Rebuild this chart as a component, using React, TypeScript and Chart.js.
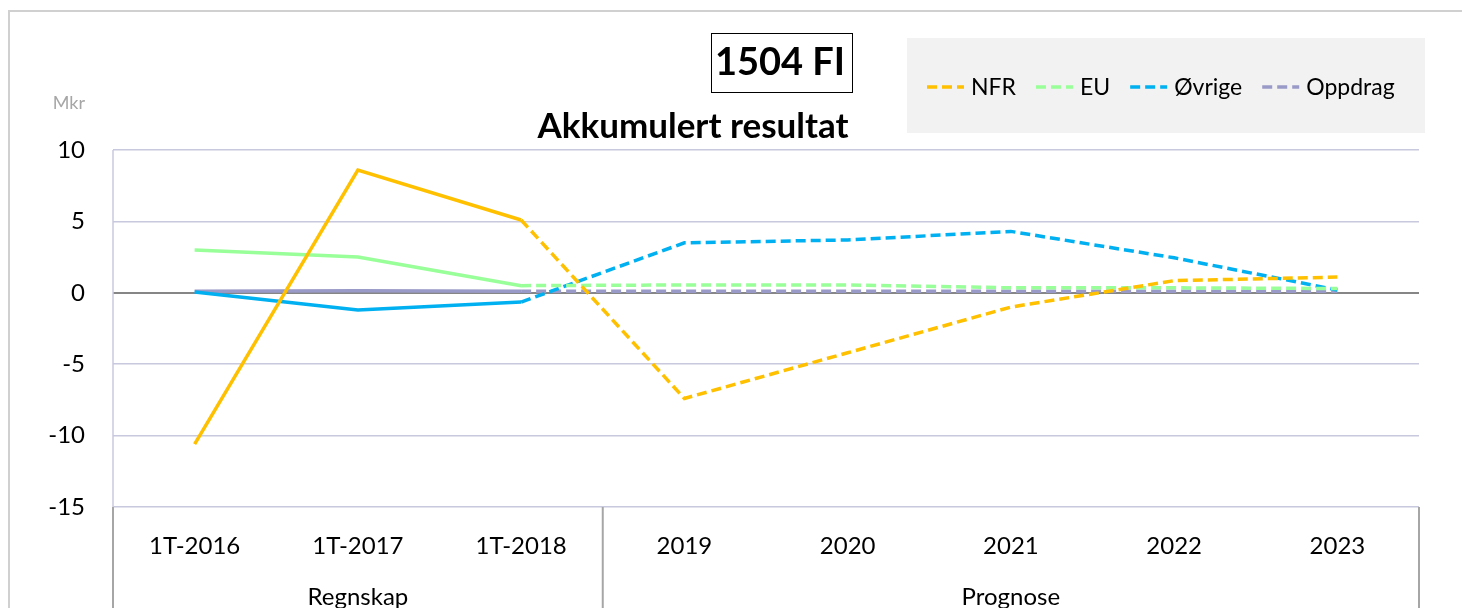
import React, { useEffect, useRef } from "react";
import { Chart, registerables } from "chart.js";

Chart.register(...registerables);

const categories = ["1T-2016", "1T-2017", "1T-2018", "2019", "2020", "2021", "2022", "2023"];
const groupLabels = ["Regnskap", "Prognose"];
const groupSizes = [3, 5];
const actualCount = 3;

const seriesNames = ["NFR", "EU", "Øvrige", "Oppdrag"];
const nfr = [-10.6, 8.6, 5.1, -7.4, -4.2, -1.0, 0.85, 1.1];
const eu = [3.0, 2.5, 0.5, 0.55, 0.55, 0.35, 0.35, 0.3];
const ovrige = [0.05, -1.2, -0.65, 3.5, 3.7, 4.3, 2.45, 0.2];
const oppdrag = [0.1, 0.15, 0.1, 0.1, 0.1, 0.1, 0.1, 0.1];
const seriesColors = ["#FFC000", "#99FF99", "#00B0F0", "#9A9AC8"];

const yTicks = [10, 5, 0, -5, -10, -15];
const titleBox = "1504 FI";
const titleText = "Akkumulert resultat";
const unitLabel = "Mkr";

const FONT = 'Lato, "Open Sans", sans-serif';
const W = 1454;
const H = 600;

export default function App() {
  const ref = useRef<HTMLCanvasElement | null>(null);

  useEffect(() => {
    if (!ref.current) return;
    const all = [nfr, eu, ovrige, oppdrag];
    const datasets: any[] = [];
    all.forEach((vals, k) => {
      datasets.push({
        label: seriesNames[k] + "_actual",
        data: vals.map((v, i) => (i < actualCount ? v : null)),
        borderColor: seriesColors[k],
        backgroundColor: seriesColors[k],
        borderWidth: 3.5,
        pointRadius: 0,
        spanGaps: false,
        tension: 0,
      });
    });
    all.forEach((vals, k) => {
      datasets.push({
        label: seriesNames[k],
        data: vals.map((v, i) => (i >= actualCount - 1 ? v : null)),
        borderColor: seriesColors[k],
        backgroundColor: seriesColors[k],
        borderWidth: 3.5,
        borderDash: [10, 5],
        pointRadius: 0,
        spanGaps: false,
        tension: 0,
      });
    });

    const decor = {
      id: "decor",
      beforeDraw(chart: any) {
        const ctx = chart.ctx;
        ctx.save();
        // outer border (top and left edges)
        ctx.strokeStyle = "#d0d0d0";
        ctx.lineWidth = 2;
        ctx.beginPath();
        ctx.moveTo(1, H);
        ctx.lineTo(1, 3);
        ctx.lineTo(W, 3);
        ctx.stroke();
        // title box
        ctx.fillStyle = "#000";
        ctx.font = `bold 38px ${FONT}`;
        ctx.textAlign = "center";
        ctx.textBaseline = "middle";
        ctx.fillText(titleBox, 772, 55);
        ctx.strokeStyle = "#000";
        ctx.lineWidth = 1;
        ctx.strokeRect(703.5, 25.5, 141, 59);
        ctx.font = `bold 35px ${FONT}`;
        ctx.fillText(titleText, 685, 119);
        // legend
        ctx.fillStyle = "#f2f2f2";
        ctx.fillRect(899, 30, 518, 95);
        ctx.font = `23px ${FONT}`;
        ctx.textAlign = "left";
        let x = 919;
        const ly = 79;
        seriesNames.forEach((n, k) => {
          ctx.strokeStyle = seriesColors[k];
          ctx.lineWidth = 3.5;
          ctx.setLineDash([10, 5]);
          ctx.beginPath();
          ctx.moveTo(x, ly);
          ctx.lineTo(x + 37, ly);
          ctx.stroke();
          ctx.setLineDash([]);
          ctx.fillStyle = "#000";
          ctx.fillText(n, x + 44, ly + 1);
          x += 44 + ctx.measureText(n).width + 20;
        });
        // unit
        ctx.fillStyle = "#a6a6a6";
        ctx.font = `18px ${FONT}`;
        ctx.textAlign = "right";
        ctx.fillText(unitLabel, 77, 95);
        ctx.restore();
      },
      beforeDatasetsDraw(chart: any) {
        const ctx = chart.ctx;
        const a = chart.chartArea;
        ctx.save();
        ctx.strokeStyle = "#c8c8de";
        ctx.lineWidth = 1.5;
        ctx.beginPath();
        ctx.moveTo(a.left, a.top);
        ctx.lineTo(a.left, a.bottom);
        ctx.stroke();
        ctx.restore();
      },
      afterDraw(chart: any) {
        const ctx = chart.ctx;
        const a = chart.chartArea;
        const xs = chart.scales.x;
        ctx.save();
        ctx.strokeStyle = "#a6a6a6";
        ctx.lineWidth = 2;
        const bounds: number[] = [a.left];
        let idx = 0;
        groupSizes.forEach((s, g) => {
          idx += s;
          const right =
            idx < categories.length
              ? (xs.getPixelForValue(idx - 1) + xs.getPixelForValue(idx)) / 2
              : a.right;
          bounds.push(right);
          const left = bounds[g];
          ctx.fillStyle = "#000";
          ctx.font = `24px ${FONT}`;
          ctx.textAlign = "center";
          ctx.textBaseline = "middle";
          ctx.fillText(groupLabels[g], (left + right) / 2, 589);
        });
        bounds.forEach((bx) => {
          ctx.beginPath();
          ctx.moveTo(bx, a.bottom);
          ctx.lineTo(bx, H);
          ctx.stroke();
        });
        ctx.restore();
      },
    };

    const chart = new Chart(ref.current, {
      type: "line",
      data: { labels: categories, datasets },
      plugins: [decor],
      options: {
        animation: false,
        responsive: false,
        devicePixelRatio: 1,
        layout: { padding: { top: 142, right: W - 1411, left: 0, bottom: 0 } },
        plugins: {
          legend: { display: false },
          title: { display: false },
          tooltip: { enabled: false },
        },
        scales: {
          x: {
            offset: true,
            grid: { display: false },
            border: { display: false },
            ticks: {
              color: "#000",
              font: { family: FONT, size: 24 },
              padding: 17,
              maxRotation: 0,
              autoSkip: false,
            },
            afterFit: (s: any) => {
              s.height = H - 499;
            },
          },
          y: {
            min: -15,
            max: 10,
            afterBuildTicks: (s: any) => {
              s.ticks = yTicks.map((v) => ({ value: v }));
            },
            grid: {
              drawTicks: false,
              color: (c: any) => (c.tick && c.tick.value === 0 ? "#868686" : "#c8c8de"),
              lineWidth: (c: any) => (c.tick && c.tick.value === 0 ? 2 : 1.5),
            },
            border: { display: false },
            ticks: {
              color: "#000",
              font: { family: FONT, size: 24 },
              padding: 28,
            },
            afterFit: (s: any) => {
              s.width = 105;
            },
          },
        },
      },
    });
    return () => chart.destroy();
  }, []);

  return (
    <div style={{ position: "fixed", left: 8, top: 8, width: W, height: H, overflow: "hidden" }}>
      <canvas
        ref={ref}
        width={W}
        height={H}
        style={{ display: "block", width: W, height: H }}
      />
    </div>
  );
}
